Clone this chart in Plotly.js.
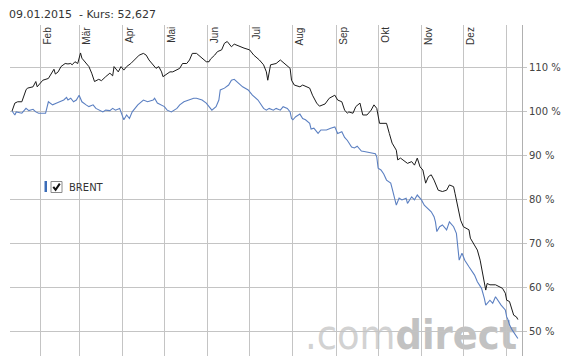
<!DOCTYPE html>
<html>
<head>
<meta charset="utf-8">
<script src="https://cdn.plot.ly/plotly-3.0.1.min.js"></script>
<style>html,body{margin:0;padding:0;background:#fff;}#chart{width:561px;height:356px;}</style>
</head>
<body>
<div id="chart"></div>
<script>
// ---- data (relative performance in %) ----
const blackDates = ['2014-01-12','2014-01-14','2014-01-16','2014-01-19','2014-01-22','2014-01-23','2014-01-27','2014-01-29','2014-01-30','2014-02-01','2014-02-03','2014-02-07','2014-02-09','2014-02-11','2014-02-12','2014-02-14','2014-02-16','2014-02-19','2014-02-21','2014-02-23','2014-02-24','2014-02-26','2014-02-28','2014-03-02','2014-03-03','2014-03-04','2014-03-06','2014-03-08','2014-03-10','2014-03-12','2014-03-15','2014-03-17','2014-03-20','2014-03-23','2014-03-25','2014-03-26','2014-03-29','2014-03-31','2014-04-02','2014-04-04','2014-04-07','2014-04-11','2014-04-13','2014-04-16','2014-04-18','2014-04-20','2014-04-23','2014-04-25','2014-04-27','2014-04-29','2014-04-30','2014-05-02','2014-05-05','2014-05-07','2014-05-09','2014-05-12','2014-05-14','2014-05-17','2014-05-19','2014-05-21','2014-05-24','2014-05-27','2014-05-31','2014-06-02','2014-06-03','2014-06-06','2014-06-08','2014-06-11','2014-06-13','2014-06-15','2014-06-18','2014-06-20','2014-06-24','2014-06-27','2014-07-01','2014-07-04','2014-07-08','2014-07-11','2014-07-13','2014-07-14','2014-07-16','2014-07-20','2014-07-23','2014-07-26','2014-07-30','2014-07-31','2014-08-02','2014-08-06','2014-08-08','2014-08-13','2014-08-15','2014-08-18','2014-08-20','2014-08-24','2014-08-27','2014-08-31','2014-09-02','2014-09-05','2014-09-07','2014-09-09','2014-09-10','2014-09-13','2014-09-15','2014-09-18','2014-09-20','2014-09-23','2014-09-26','2014-09-28','2014-09-30','2014-10-02','2014-10-07','2014-10-09','2014-10-11','2014-10-14','2014-10-15','2014-10-17','2014-10-20','2014-10-22','2014-10-25','2014-10-27','2014-10-29','2014-10-31','2014-11-02','2014-11-04','2014-11-06','2014-11-08','2014-11-10','2014-11-13','2014-11-16','2014-11-19','2014-11-21','2014-11-24','2014-11-25','2014-11-27','2014-11-29','2014-12-01','2014-12-03','2014-12-05','2014-12-06','2014-12-08','2014-12-11','2014-12-13','2014-12-15','2014-12-16','2014-12-17','2014-12-18','2014-12-20','2014-12-24','2014-12-27','2014-12-29','2014-12-31','2015-01-01','2015-01-03','2015-01-04','2015-01-06','2015-01-08','2015-01-09'];
const blackValues = [100.0,101.8,102.1,102.1,104.8,105.2,105.5,106.7,105.5,106.3,107.0,107.4,108.6,109.5,108.4,108.9,110.1,110.8,110.7,110.8,110.5,111.2,110.8,113.2,112.0,111.6,110.7,110.1,108.6,106.7,107.2,106.9,107.8,108.6,108.0,110.1,108.9,110.1,109.3,110.1,110.8,112.0,112.7,113.1,112.7,111.6,110.5,109.7,110.1,108.9,107.8,108.2,108.9,108.9,109.3,109.7,110.8,110.8,111.6,113.1,113.1,112.3,111.2,111.2,111.8,112.7,113.5,113.9,115.4,115.8,114.6,115.2,114.6,114.3,113.9,112.7,111.6,110.5,108.9,107.0,110.5,110.8,111.6,110.8,109.7,107.0,105.9,105.5,105.9,105.2,103.6,101.8,101.1,101.6,102.9,103.6,102.5,102.1,100.2,99.5,99.8,99.5,101.0,101.8,99.1,99.1,100.2,101.4,100.6,97.2,97.2,94.9,92.7,91.1,88.9,89.3,88.5,88.1,88.5,87.7,89.3,87.3,86.6,83.6,85.1,85.5,84.3,82.0,81.7,82.0,83.2,82.8,81.3,78.3,75.2,73.7,73.3,73.0,71.1,69.9,68.4,66.1,63.1,61.2,59.3,60.8,60.5,60.5,60.1,59.7,58.6,57.0,56.7,55.5,53.6,53.2,52.6];

const brentDates = ['2014-01-12','2014-01-14','2014-01-15','2014-01-17','2014-01-19','2014-01-22','2014-01-24','2014-01-27','2014-01-29','2014-01-31','2014-02-03','2014-02-05','2014-02-07','2014-02-08','2014-02-10','2014-02-13','2014-02-15','2014-02-18','2014-02-20','2014-02-21','2014-02-23','2014-02-25','2014-02-27','2014-03-01','2014-03-03','2014-03-04','2014-03-06','2014-03-08','2014-03-11','2014-03-13','2014-03-15','2014-03-18','2014-03-20','2014-03-23','2014-03-25','2014-03-27','2014-03-30','2014-04-01','2014-04-02','2014-04-04','2014-04-06','2014-04-08','2014-04-10','2014-04-12','2014-04-16','2014-04-19','2014-04-23','2014-04-24','2014-04-26','2014-04-29','2014-05-01','2014-05-03','2014-05-06','2014-05-10','2014-05-12','2014-05-15','2014-05-18','2014-05-22','2014-05-24','2014-05-28','2014-05-31','2014-06-03','2014-06-04','2014-06-07','2014-06-09','2014-06-10','2014-06-13','2014-06-16','2014-06-18','2014-06-20','2014-06-23','2014-06-26','2014-06-30','2014-07-03','2014-07-07','2014-07-09','2014-07-11','2014-07-13','2014-07-15','2014-07-18','2014-07-20','2014-07-23','2014-07-25','2014-07-28','2014-07-30','2014-07-31','2014-08-01','2014-08-03','2014-08-06','2014-08-08','2014-08-10','2014-08-13','2014-08-14','2014-08-16','2014-08-19','2014-08-21','2014-08-25','2014-08-28','2014-08-31','2014-09-02','2014-09-05','2014-09-07','2014-09-09','2014-09-12','2014-09-14','2014-09-16','2014-09-19','2014-09-21','2014-09-24','2014-09-26','2014-09-29','2014-09-30','2014-10-01','2014-10-03','2014-10-05','2014-10-07','2014-10-10','2014-10-11','2014-10-12','2014-10-14','2014-10-16','2014-10-18','2014-10-21','2014-10-22','2014-10-25','2014-10-27','2014-10-29','2014-11-01','2014-11-03','2014-11-05','2014-11-08','2014-11-10','2014-11-11','2014-11-12','2014-11-14','2014-11-16','2014-11-19','2014-11-21','2014-11-24','2014-11-26','2014-11-27','2014-11-28','2014-11-30','2014-12-02','2014-12-05','2014-12-09','2014-12-11','2014-12-14','2014-12-16','2014-12-17','2014-12-20','2014-12-22','2014-12-24','2014-12-26','2014-12-28','2014-12-31','2015-01-01','2015-01-02','2015-01-03','2015-01-05','2015-01-07','2015-01-09'];
const brentValues = [100.0,99.1,99.8,99.6,99.5,100.6,100.1,100.4,99.8,99.5,99.6,99.5,102.1,101.8,101.4,101.8,102.1,102.5,103.1,102.5,102.9,102.1,102.5,103.6,102.1,101.8,101.4,101.0,101.4,100.6,100.2,99.8,100.2,100.1,100.6,100.2,100.6,98.7,98.0,99.1,98.3,99.8,100.6,101.4,102.5,102.1,102.5,102.9,101.8,101.4,101.0,100.2,99.8,100.6,101.4,102.1,102.5,102.9,102.9,102.5,101.8,100.6,100.2,101.0,102.5,104.8,105.2,105.9,107.0,107.2,106.3,105.5,104.8,103.6,102.5,101.4,100.6,100.2,100.6,100.2,100.6,100.2,101.0,100.6,99.8,98.3,98.0,98.7,99.3,98.3,98.0,97.2,95.9,96.1,94.9,95.7,95.7,96.1,96.4,94.9,95.3,94.0,93.3,91.8,91.6,92.0,90.9,90.8,90.6,90.4,90.3,89.6,87.0,86.6,85.7,84.3,83.6,82.4,80.9,78.6,80.2,79.8,80.2,79.0,80.5,79.8,80.9,79.8,78.6,77.9,77.1,76.0,74.8,72.6,73.7,74.1,73.0,74.8,73.7,72.2,68.8,66.1,67.7,66.1,64.6,62.7,61.2,59.7,57.4,55.9,57.0,56.3,57.8,56.7,55.9,54.8,53.2,52.5,51.4,50.2,49.1,48.3];

const monthStarts = ['2014-02-01','2014-03-01','2014-04-01','2014-05-01','2014-06-01','2014-07-01','2014-08-01','2014-09-01','2014-10-01','2014-11-01','2014-12-01','2015-01-01'];
const monthLabels = ['Feb','Mär','Apr','Mai','Jun','Jul','Aug','Sep','Okt','Nov','Dez'];
const yTicks = [50,60,70,80,90,100,110];
const yTickLabels = ['50 %','60 %','70 %','80 %','90 %','100 %','110 %'];
const headerText = '09.01.2015&nbsp;&nbsp;- Kurs: 52,627';
const seriesName = 'BRENT';

// ---- layout helpers (pixel -> paper) ----
const W = 561, H = 356, M = {l:10, r:39, t:25, b:0};
const pw = W - M.l - M.r, ph = H - M.t - M.b;
const px = v => (v - M.l) / pw;
const py = v => (H - M.b - v) / ph;

const gridCol = '#c4c4c4';

const traces = [
  {x: blackDates, y: blackValues, type: 'scatter', mode: 'lines',
   line: {color: '#1a1a1a', width: 1}, hoverinfo: 'skip', name: 'Kurs'},
  {x: brentDates, y: brentValues, type: 'scatter', mode: 'lines',
   line: {color: '#5c80c2', width: 1.1}, hoverinfo: 'skip', name: seriesName}
];

const annotations = monthLabels.map((m, i) => ({
  x: monthStarts[i], xref: 'x', y: 1, yref: 'paper',
  text: m, textangle: -90, showarrow: false,
  xanchor: 'left', yanchor: 'top', xshift: -1, yshift: 0,
  font: {family: 'Liberation Sans, Arial, sans-serif', size: 10, color: '#333'}
}));
annotations.push({
  x: 0, xref: 'paper', y: 1, yref: 'paper', xanchor: 'left', yanchor: 'middle',
  xshift: -3, yshift: 11, text: headerText, showarrow: false,
  font: {family: 'DejaVu Sans, Verdana, sans-serif', size: 11, color: '#333'}
});
annotations.push({
  x: px(66.5), xref: 'paper', y: py(187), yref: 'paper', xanchor: 'left', yanchor: 'middle',
  text: seriesName, showarrow: false,
  font: {family: 'DejaVu Sans, Verdana, sans-serif', size: 10, color: '#333'}
});

const shapes = [
  // legend marker + checkbox
  {type: 'rect', xref: 'paper', yref: 'paper', x0: px(44.5), x1: px(47), y0: py(192), y1: py(181),
   fillcolor: '#3b6cb8', line: {width: 0}},
  {type: 'rect', xref: 'paper', yref: 'paper', x0: px(51), x1: px(62), y0: py(192.5), y1: py(181.5),
   fillcolor: '#ffffff', line: {color: '#8a8a8a', width: 1}},
  {type: 'path', xref: 'paper', yref: 'paper',
   path: 'M ' + px(53.3) + ' ' + py(186.8) + ' L ' + px(55.6) + ' ' + py(189.8) + ' L ' + px(59.8) + ' ' + py(183.6),
   line: {color: '#111', width: 2}},
  // watermark
  {type: 'rect', xref: 'paper', yref: 'paper', layer: 'between',
   x0: px(302), x1: px(496), y0: py(356), y1: py(300),
   fillcolor: 'rgba(0,0,0,0)', line: {width: 0},
   label: {text: '<span style="color:#d2d2d2">.com</span><b>direct</b>',
           textposition: 'bottom left', xanchor: 'left', padding: 0,
           font: {family: 'DejaVu Sans Condensed, sans-serif', size: 41, color: '#c2c2c2'}}}
];

const layout = {
  width: W, height: H, margin: M,
  paper_bgcolor: '#fff', plot_bgcolor: '#fff', showlegend: false,
  xaxis: {type: 'date', range: ['2014-01-10 12:40', '2015-01-11 22:50'],
          tickmode: 'array', tickvals: monthStarts, showticklabels: false,
          showgrid: true, gridcolor: gridCol, gridwidth: 1, zeroline: false, showline: false, ticks: ''},
  yaxis: {side: 'right', range: [44.32, 119.55], tickmode: 'array', tickvals: yTicks, ticktext: yTickLabels,
          showgrid: true, gridcolor: gridCol, gridwidth: 1, zeroline: false,
          showline: true, linecolor: '#b0b0b0', linewidth: 1, ticks: 'outside', ticklen: 4, tickcolor: gridCol,
          tickfont: {family: 'DejaVu Sans, Verdana, sans-serif', size: 10, color: '#444'}},
  annotations: annotations, shapes: shapes
};

Plotly.newPlot('chart', traces, layout, {displayModeBar: false, staticPlot: true});
</script>
</body>
</html>
